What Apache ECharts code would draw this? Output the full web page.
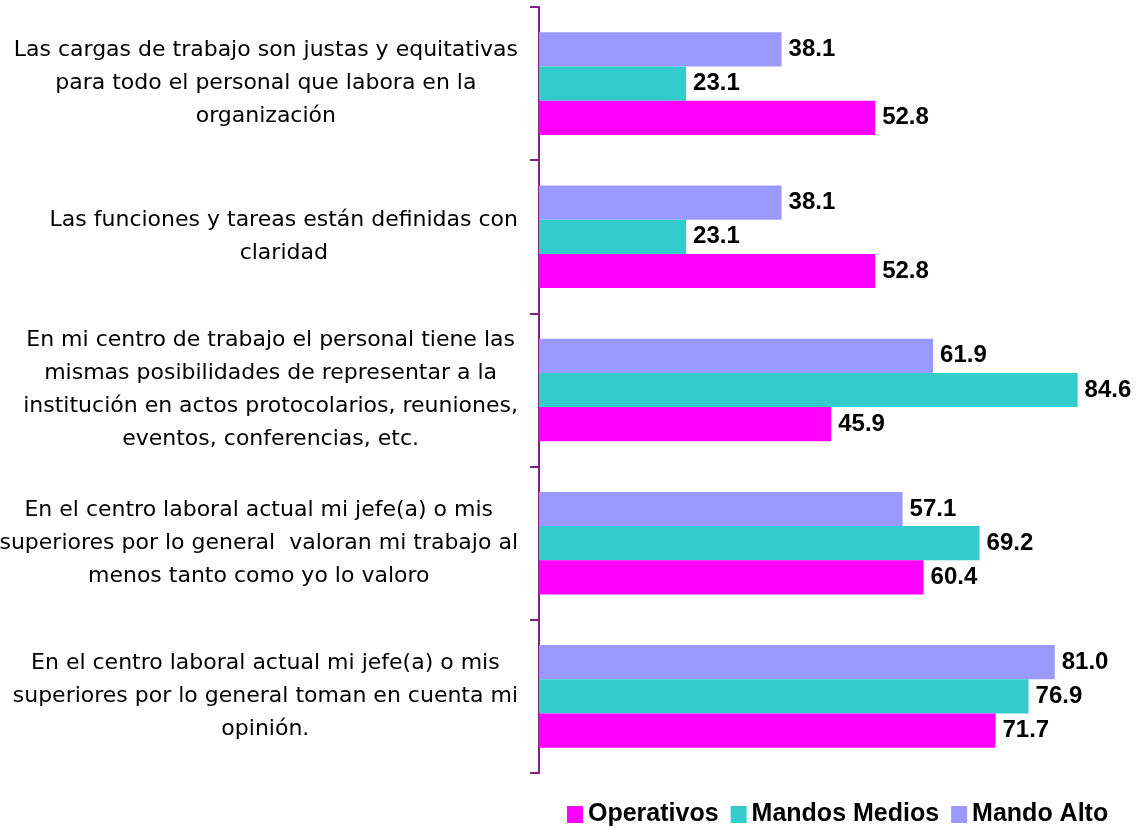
<!DOCTYPE html>
<html>
<head>
<meta charset="utf-8">
<script src="https://cdn.jsdelivr.net/npm/echarts@6/dist/echarts.min.js"></script>
<style>
    html, body { margin: 0; padding: 0; background: #fff; }
    #chart { width: 1147px; height: 827px; }
</style>
</head>
<body>
<div id="chart"></div>
<script>
const categories = [
    'Las cargas de trabajo son justas y equitativas\npara todo el personal que labora en la\norganización',
    'Las funciones y tareas están definidas con\nclaridad',
    'En mi centro de trabajo el personal tiene las\nmismas posibilidades de representar a la\ninstitución en actos protocolarios, reuniones,\neventos, conferencias, etc.',
    'En el centro laboral actual mi jefe(a) o mis\nsuperiores por lo general  valoran mi trabajo al\nmenos tanto como yo lo valoro',
    'En el centro laboral actual mi jefe(a) o mis\nsuperiores por lo general toman en cuenta mi\nopinión.'
]
const mandoAlto = [38.1, 38.1, 61.9, 57.1, 81.0]
const mandosMedios = [23.1, 23.1, 84.6, 69.2, 76.9]
const operativos = [52.8, 52.8, 45.9, 60.4, 71.7]
const legendNames = ['Operativos', 'Mandos Medios', 'Mando Alto']

const font = 'Liberation Sans, Arial, sans-serif'

const barLabel = {
    show: true,
    position: 'right',
    distance: 7,
    color: '#000',
    fontFamily: font,
    fontSize: 24,
    fontWeight: 'bold',
    formatter: p => p.value.toFixed(1)
}

function makeSeries(name, data, color) {
    return {
        name,
        type: 'bar',
        data,
        barGap: '0%',
        barCategoryGap: '33%',
        itemStyle: { color },
        label: barLabel
    }
}

const chart = echarts.init(document.getElementById('chart'))
chart.setOption({
    animation: false,
    backgroundColor: '#fff',
    grid: { left: 539, right: 35, top: 7, bottom: 54, containLabel: false, outerBoundsMode: 'none' },
    xAxis: {
        type: 'value',
        min: 0,
        max: 90,
        show: false,
        splitLine: { show: false }
    },
    yAxis: {
        type: 'category',
        inverse: true,
        data: categories,
        axisLine: { lineStyle: { color: '#80207f', width: 2 } },
        axisTick: { show: true, length: 9, lineStyle: { color: '#80207f', width: 2 } },
        axisLabel: {
            margin: 21,
            align: 'right',
            formatter: v => v.split('\n').map(s => '{c|' + s + '}').join('\n'),
            rich: {
                c: {
                    align: 'center',
                    fontFamily: 'DejaVu Sans',
                    fontSize: 22,
                    lineHeight: 33,
                    color: '#000'
                }
            }
        }
    },
    legend: {
        data: legendNames,
        left: 562,
        top: 797,
        itemWidth: 16,
        itemHeight: 17,
        itemGap: 12,
        icon: 'rect',
        textStyle: { fontFamily: font, fontSize: 25, fontWeight: 'bold', color: '#000' }
    },
    series: [
        makeSeries('Mando Alto', mandoAlto, '#9999ff'),
        makeSeries('Mandos Medios', mandosMedios, '#33cccc'),
        makeSeries('Operativos', operativos, '#ff00ff')
    ]
})
</script>
</body>
</html>
